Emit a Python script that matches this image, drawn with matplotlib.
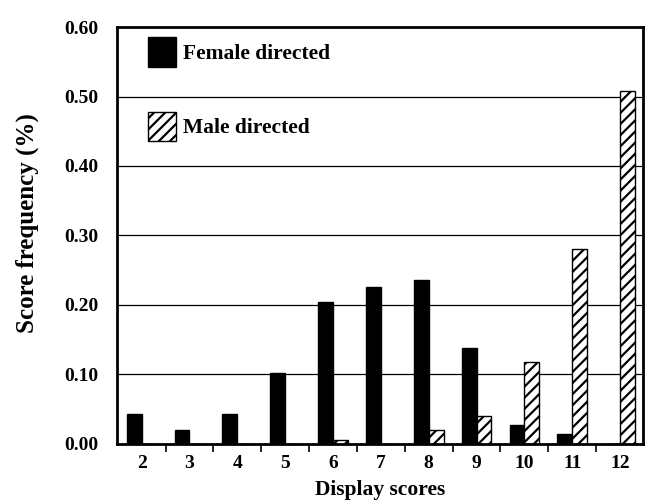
import numpy as np
import matplotlib
matplotlib.use('Agg')
import matplotlib.pyplot as plt

# data
scores = [2, 3, 4, 5, 6, 7, 8, 9, 10, 11, 12]
female_directed = [0.043, 0.020, 0.043, 0.102, 0.204, 0.226, 0.236, 0.138, 0.027, 0.014, 0.0]
male_directed = [0.0, 0.0, 0.0, 0.0, 0.005, 0.0, 0.020, 0.040, 0.118, 0.280, 0.508]
y_ticks = [0.0, 0.1, 0.2, 0.3, 0.4, 0.5, 0.6]

plt.rcParams['font.family'] = ['Liberation Serif', 'DejaVu Serif']
plt.rcParams['font.weight'] = 'bold'
plt.rcParams['hatch.linewidth'] = 1.6

fig = plt.figure(figsize=(6.45, 5.01), dpi=100)
ax = fig.add_axes([0.181, 0.114, 0.816, 0.832])

x = np.array(scores)
w = 0.31
ax.bar(x - w / 2, female_directed, width=w, color='black', edgecolor='black',
       linewidth=1, zorder=3, label='Female directed')
ax.bar(x + w / 2, male_directed, width=w, color='white', edgecolor='black',
       hatch='///', linewidth=1, zorder=3, label='Male directed')

ax.set_xlim(1.48, 12.48)
ax.set_ylim(0, 0.6)
ax.set_yticks(y_ticks)
ax.set_yticklabels([f'{v:.2f}' for v in y_ticks], fontsize=14, fontweight='bold')
ax.set_xticks(scores)
ax.set_xticklabels([str(s) for s in scores], fontsize=14, fontweight='bold')
ax.set_xticks(np.arange(2.5, 12, 1), minor=True)
ax.tick_params(axis='x', which='major', length=0, pad=8)
ax.tick_params(axis='x', which='minor', length=6, width=1.2, direction='out')
ax.tick_params(axis='y', length=0, pad=13)

ax.grid(axis='y', color='black', linewidth=0.9, zorder=0)
ax.set_axisbelow(True)
for s in ax.spines.values():
    s.set_linewidth(2)
    s.set_zorder(4)

ax.set_xlabel('Display scores', fontsize=15.5, fontweight='bold', labelpad=6)
ax.set_ylabel('Score frequency (%)', fontsize=18, fontweight='bold')
ax.yaxis.set_label_coords(-0.148, 0.53)

leg = ax.legend(loc='upper left', bbox_to_anchor=(0.059, 0.975), frameon=False,
                borderaxespad=0, borderpad=0,
                handlelength=1.3, handleheight=1.7, labelspacing=2.1,
                handletextpad=0.35, prop={'weight': 'bold', 'size': 15.5})

plt.savefig('out.png', dpi=100)
plt.close()
